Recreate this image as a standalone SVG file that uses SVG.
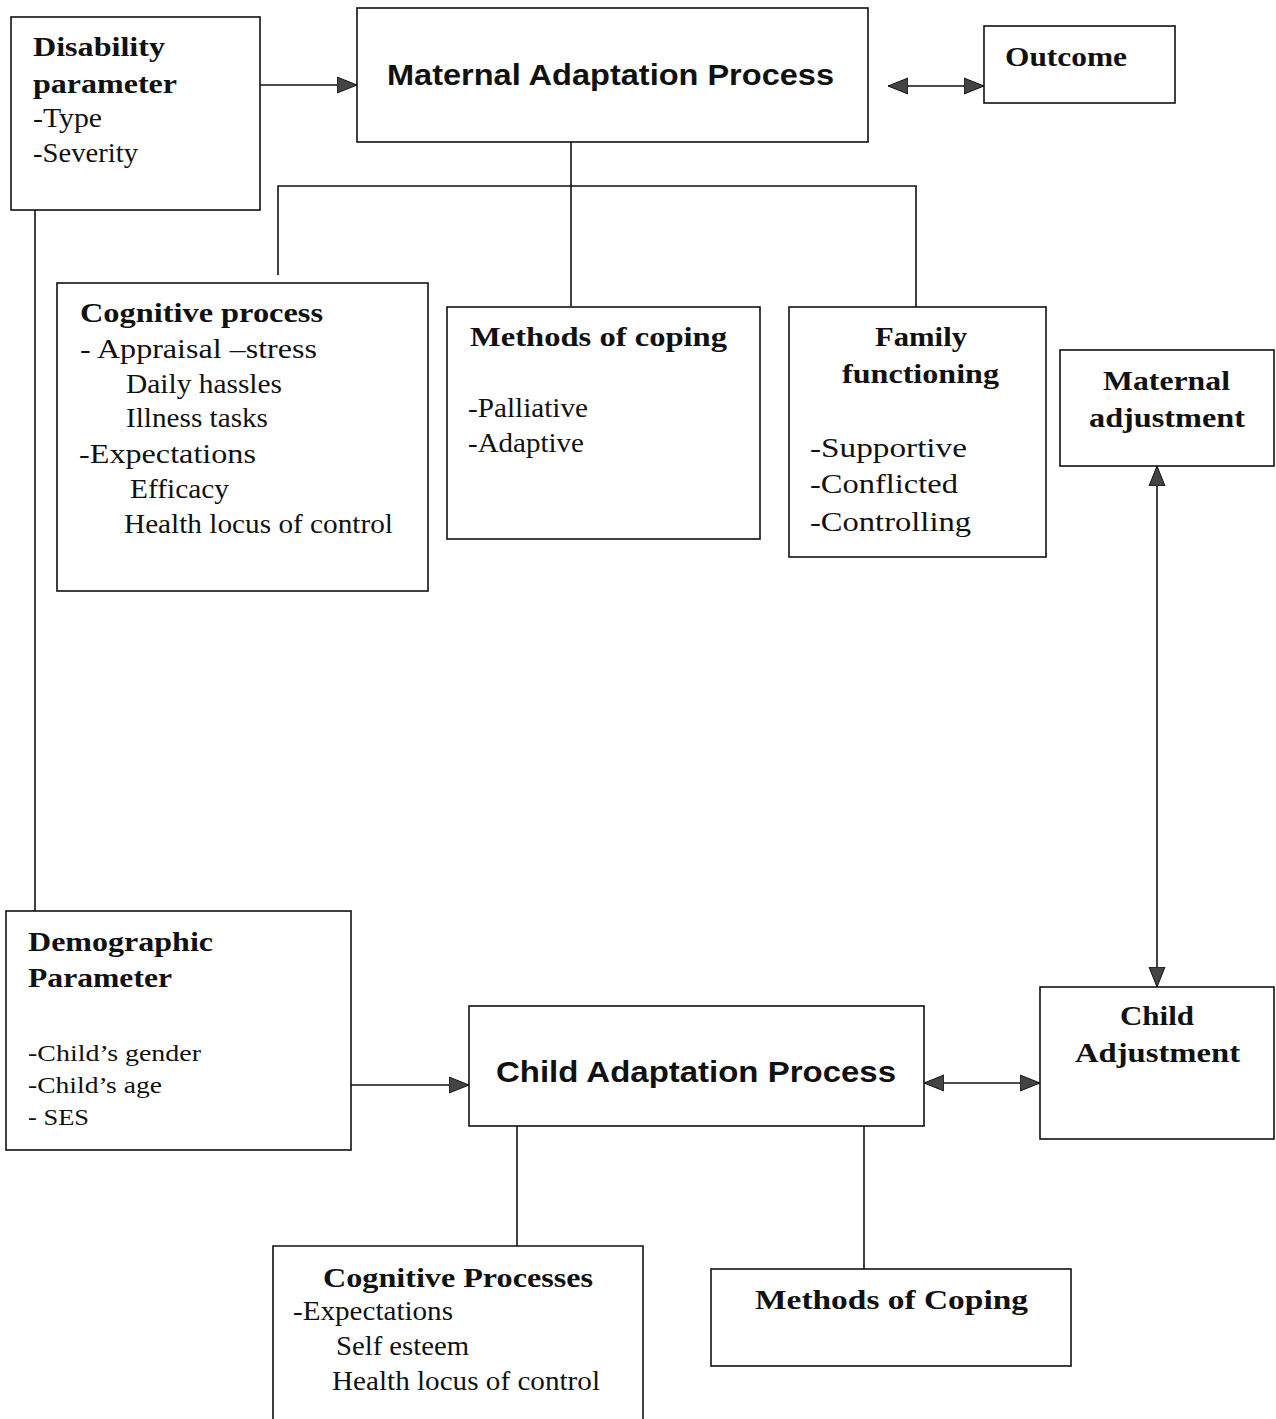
<svg xmlns="http://www.w3.org/2000/svg" width="1276" height="1419" viewBox="0 0 1276 1419">
  <style>
    .box { fill: #fff; stroke: #111; stroke-width: 1.6; }
    .ln { fill: none; stroke: #111; stroke-width: 1.6; }
    .h { font-family: "Liberation Serif", "Times New Roman", serif; font-weight: bold; font-size: 28px; fill: #111; }
    .t { font-family: "Liberation Serif", "Times New Roman", serif; font-size: 27px; fill: #111; }
    .s { font-family: "Liberation Serif", "Times New Roman", serif; font-size: 24px; fill: #111; }
    .p { font-family: "Liberation Sans", Arial, sans-serif; font-weight: bold; font-size: 30px; fill: #111; }
  </style>
  <defs>
    <marker id="arr" markerUnits="userSpaceOnUse" markerWidth="22" markerHeight="18" refX="20" refY="9" orient="auto-start-reverse">
      <path d="M0,1 L20,9 L0,17 Z" fill="#444" stroke="#111" stroke-width="1"/>
    </marker>
  </defs>

  <rect width="1276" height="1419" fill="#fff"/>

  <!-- connectors -->
  <g id="connectors">
    <line class="ln" x1="260" y1="85" x2="357" y2="85" marker-end="url(#arr)"/>
    <line class="ln" x1="888" y1="86" x2="984" y2="86" marker-start="url(#arr)" marker-end="url(#arr)"/>
    <polyline class="ln" points="571,142 571,306"/>
    <polyline class="ln" points="278,275 278,186 916,186 916,307"/>
    <line class="ln" x1="35" y1="210" x2="35" y2="911"/>
    <line class="ln" x1="1157" y1="466" x2="1157" y2="987" marker-start="url(#arr)" marker-end="url(#arr)"/>
    <line class="ln" x1="351" y1="1085" x2="469" y2="1085" marker-end="url(#arr)"/>
    <line class="ln" x1="924" y1="1083" x2="1040" y2="1083" marker-start="url(#arr)" marker-end="url(#arr)"/>
    <line class="ln" x1="517" y1="1126" x2="517" y2="1246"/>
    <line class="ln" x1="864" y1="1126" x2="864" y2="1269"/>
  </g>

  <g id="disability">
    <rect class="box" x="11" y="17" width="249" height="193"/>
    <text class="h" x="33" y="56" textLength="132" lengthAdjust="spacingAndGlyphs">Disability</text>
    <text class="h" x="33" y="93" textLength="144" lengthAdjust="spacingAndGlyphs">parameter</text>
    <text class="t" x="33" y="127" textLength="69" lengthAdjust="spacingAndGlyphs">-Type</text>
    <text class="t" x="33" y="162" textLength="105" lengthAdjust="spacingAndGlyphs">-Severity</text>
  </g>

  <g id="maternal-process">
    <rect class="box" x="357" y="8" width="511" height="134"/>
    <text class="p" x="387" y="85" textLength="447" lengthAdjust="spacingAndGlyphs">Maternal Adaptation Process</text>
  </g>

  <g id="outcome">
    <rect class="box" x="984" y="26" width="191" height="77"/>
    <text class="h" x="1005" y="66" textLength="122" lengthAdjust="spacingAndGlyphs">Outcome</text>
  </g>

  <g id="cognitive-process">
    <rect class="box" x="57" y="283" width="371" height="308"/>
    <text class="h" x="80" y="322" textLength="243" lengthAdjust="spacingAndGlyphs">Cognitive process</text>
    <text class="t" x="80" y="358" textLength="237" lengthAdjust="spacingAndGlyphs">- Appraisal –stress</text>
    <text class="t" x="126" y="393" textLength="156" lengthAdjust="spacingAndGlyphs">Daily hassles</text>
    <text class="t" x="126" y="427" textLength="142" lengthAdjust="spacingAndGlyphs">Illness tasks</text>
    <text class="t" x="79" y="463" textLength="177" lengthAdjust="spacingAndGlyphs">-Expectations</text>
    <text class="t" x="130" y="498" textLength="99" lengthAdjust="spacingAndGlyphs">Efficacy</text>
    <text class="t" x="124" y="533" textLength="269" lengthAdjust="spacingAndGlyphs">Health locus of control</text>
  </g>

  <g id="methods-coping">
    <rect class="box" x="447" y="307" width="313" height="232"/>
    <text class="h" x="470" y="346" textLength="257" lengthAdjust="spacingAndGlyphs">Methods of coping</text>
    <text class="t" x="468" y="417" textLength="120" lengthAdjust="spacingAndGlyphs">-Palliative</text>
    <text class="t" x="468" y="452" textLength="116" lengthAdjust="spacingAndGlyphs">-Adaptive</text>
  </g>

  <g id="family-functioning">
    <rect class="box" x="789" y="307" width="257" height="250"/>
    <text class="h" x="875" y="346" textLength="92" lengthAdjust="spacingAndGlyphs">Family</text>
    <text class="h" x="842" y="383" textLength="157" lengthAdjust="spacingAndGlyphs">functioning</text>
    <text class="t" x="810" y="457" textLength="157" lengthAdjust="spacingAndGlyphs">-Supportive</text>
    <text class="t" x="810" y="493" textLength="148" lengthAdjust="spacingAndGlyphs">-Conflicted</text>
    <text class="t" x="810" y="531" textLength="161" lengthAdjust="spacingAndGlyphs">-Controlling</text>
  </g>

  <g id="maternal-adjustment">
    <rect class="box" x="1060" y="350" width="214" height="116"/>
    <text class="h" x="1103" y="390" textLength="127" lengthAdjust="spacingAndGlyphs">Maternal</text>
    <text class="h" x="1089" y="427" textLength="156" lengthAdjust="spacingAndGlyphs">adjustment</text>
  </g>

  <g id="demographic">
    <rect class="box" x="6" y="911" width="345" height="239"/>
    <text class="h" x="28" y="951" textLength="185" lengthAdjust="spacingAndGlyphs">Demographic</text>
    <text class="h" x="28" y="987" textLength="144" lengthAdjust="spacingAndGlyphs">Parameter</text>
    <text class="s" x="28" y="1061" textLength="173" lengthAdjust="spacingAndGlyphs">-Child’s gender</text>
    <text class="s" x="28" y="1093" textLength="134" lengthAdjust="spacingAndGlyphs">-Child’s age</text>
    <text class="s" x="28" y="1125" textLength="61" lengthAdjust="spacingAndGlyphs">- SES</text>
  </g>

  <g id="child-process">
    <rect class="box" x="469" y="1006" width="455" height="120"/>
    <text class="p" x="496" y="1082" textLength="400" lengthAdjust="spacingAndGlyphs">Child Adaptation Process</text>
  </g>

  <g id="child-adjustment">
    <rect class="box" x="1040" y="987" width="234" height="152"/>
    <text class="h" x="1120" y="1025" textLength="74" lengthAdjust="spacingAndGlyphs">Child</text>
    <text class="h" x="1075" y="1062" textLength="165" lengthAdjust="spacingAndGlyphs">Adjustment</text>
  </g>

  <g id="cognitive-processes">
    <path class="ln" d="M273,1425 L273,1246 L643,1246 L643,1425"/>
    <text class="h" x="323" y="1287" textLength="270" lengthAdjust="spacingAndGlyphs">Cognitive Processes</text>
    <text class="t" x="293" y="1320" textLength="160" lengthAdjust="spacingAndGlyphs">-Expectations</text>
    <text class="t" x="336" y="1355" textLength="133" lengthAdjust="spacingAndGlyphs">Self esteem</text>
    <text class="t" x="332" y="1390" textLength="268" lengthAdjust="spacingAndGlyphs">Health locus of control</text>
  </g>

  <g id="methods-coping-child">
    <rect class="box" x="711" y="1269" width="360" height="97"/>
    <text class="h" x="755" y="1309" textLength="273" lengthAdjust="spacingAndGlyphs">Methods of Coping</text>
  </g>
</svg>
